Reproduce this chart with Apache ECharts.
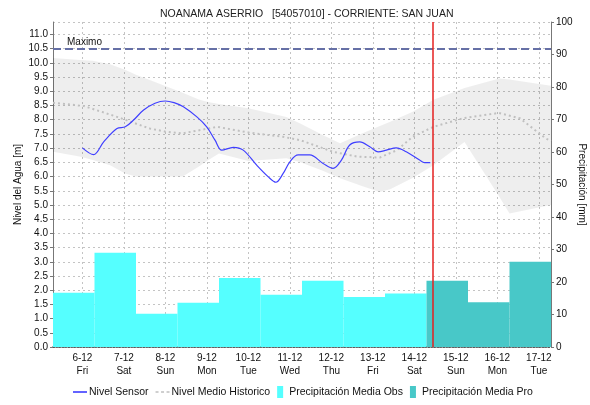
<!DOCTYPE html>
<html>
<head>
<meta charset="utf-8">
<script src="https://cdn.jsdelivr.net/npm/echarts@6/dist/echarts.min.js"></script>
<style>
html, body { margin: 0; padding: 0; background: #fff; }
#chart { width: 590px; height: 405px; }
</style>
</head>
<body>
<div id="chart"></div>
<script>
// time origin: 6-12 00:00, offsets below are in hours
var base = new Date(2019, 11, 6, 0, 0).getTime();
var HOUR = 3600 * 1000;
var dayNames = ['Sun', 'Mon', 'Tue', 'Wed', 'Thu', 'Fri', 'Sat'];

// Nivel Sensor [m]
var sensorHours = [0, 6.5, 12.3, 20, 24.8, 29.6, 35.4, 42, 47.9, 53, 58.4, 66.2, 71.9, 76.7, 80.6, 87.3,
    93, 100.8, 107.5, 111.9, 116.1, 120, 124.8, 131.5, 139.2, 145, 149.8, 154.6, 160.4, 166.2, 171,
    175.8, 181.5, 187.3, 195, 197.9, 201.2];
var sensorLevel = [7.01, 6.77, 7.22, 7.69, 7.75, 7.99, 8.34, 8.58, 8.66, 8.6, 8.46, 8.10, 7.75, 7.28, 6.93, 7.03,
    6.93, 6.40, 5.99, 5.80, 6.11, 6.52, 6.76, 6.76, 6.46, 6.29, 6.58, 7.11, 7.22, 7.05, 6.87,
    6.93, 7.01, 6.87, 6.58, 6.49, 6.49];

// Nivel Medio Historico [m]
var histHours = [-17, 1, 20, 39, 48, 58, 78, 97, 116, 126, 145, 159, 172, 182, 191, 203, 220, 241, 253, 268, 271];
var histLevel = [8.60, 8.48, 8.10, 7.69, 7.58, 7.52, 7.75, 7.54, 7.40, 7.28, 6.87, 6.70, 6.67, 6.93, 7.40, 7.75,
    8.05, 8.24, 8.05, 7.34, 7.25];

// historic min / max band [m]
var bandHours = [-17, -1, 6, 16, 25, 31, 39, 58, 67, 72, 79, 96, 118, 126, 139, 149, 162, 172, 178, 191,
    203, 221, 241, 247, 271];
var bandLow = [6.87, 6.70, 6.58, 6.40, 6.10, 6.00, 6.00, 6.00, 6.34, 6.55, 6.81, 6.55, 6.64, 6.50, 6.20,
    5.94, 5.66, 5.46, 5.55, 5.95, 6.40, 7.22, 5.30, 4.70, 5.00];
var bandHigh = [10.17, 10.10, 10.08, 9.95, 9.75, 9.58, 9.40, 8.95, 8.72, 8.63, 8.55, 8.40, 8.10, 7.87, 7.46,
    7.17, 7.52, 7.78, 7.93, 8.28, 8.70, 9.12, 9.45, 9.42, 9.20];

// daily precipitation [mm], each day runs 07:00 -> 07:00, first one starts 5-12 07:00
var rainStartHour = -17;
var obsRain = [16.7, 29.0, 10.2, 13.6, 21.2, 16.1, 20.4, 15.4, 16.5];
var proRain = [20.4, 13.8, 26.2];

var maxLevel = 10.5;
var nowHour = 202.7;

function t(h) { return base + h * HOUR; }

function pairs(hours, vals) {
    return hours.map(function (h, i) { return [t(h), vals[i]]; });
}

function rainBars(vals, firstDay) {
    return vals.map(function (v, i) {
        var s = rainStartHour + (firstDay + i) * 24;
        return [t(s), t(s + 24), v];
    });
}

function renderBar(params, api) {
    var p0 = api.coord([api.value(0), api.value(2)]);
    var p1 = api.coord([api.value(1), 0]);
    return {
        type: 'rect',
        shape: { x: p0[0], y: p0[1], width: p1[0] - p0[0], height: p1[1] - p0[1] },
        style: api.style()
    };
}

var font = 'Liberation Sans, Arial, sans-serif';
var obsColor = '#55ffff';
var proColor = '#48c8c8';

var option = {
    animation: false,
    textStyle: { fontFamily: font },
    title: {
        text: 'NOANAMA ASERRIO   [54057010] - CORRIENTE: SAN JUAN',
        left: 155,
        top: 4,
        textStyle: { fontSize: 10.5, fontWeight: 'normal', color: '#222', fontFamily: font }
    },
    legend: {
        left: 68,
        top: 381,
        itemWidth: 14,
        itemHeight: 12,
        itemGap: 7,
        textStyle: { fontSize: 10.5, color: '#111', fontFamily: font, padding: [0, 0, 0, -3] },
        data: [
            { name: 'Nivel Sensor', icon: 'path://M0,0h14v1.4h-14z', itemStyle: { color: '#2020ff' } },
            { name: 'Nivel Medio Historico', icon: 'path://M0,0h3v1.4h-3zM5.5,0h3v1.4h-3zM11,0h3v1.4h-3z', itemStyle: { color: '#c0c0c0' } },
            { name: 'Precipitación Media Obs', icon: 'path://M0,0h6v12h-6z' },
            { name: 'Precipitación Media Pro', icon: 'path://M0,0h6v12h-6z' }
        ]
    },
    grid: { left: 53, right: 39, top: 22, bottom: 58, containLabel: false, outerBoundsMode: 'none' },
    xAxis: {
        type: 'time',
        min: t(-17),
        max: t(271),
        minInterval: 24 * HOUR,
        maxInterval: 24 * HOUR,
        axisLine: { show: true, lineStyle: { color: '#333', type: 'dotted', width: 1.5 } },
        axisTick: { show: false },
        splitLine: { show: true, lineStyle: { color: '#c4c4c4', type: [2, 3] } },
        axisLabel: {
            interval: 0,
            margin: 5,
            fontSize: 10,
            lineHeight: 13,
            color: '#111',
            showMinLabel: false,
            showMaxLabel: false,
            formatter: function (val) {
                var d = new Date(val);
                if (d.getHours() !== 0 || d.getMinutes() !== 0) return '';
                return d.getDate() + '-12\n' + dayNames[d.getDay()];
            }
        }
    },
    yAxis: [{
        type: 'value',
        min: 0,
        max: 11.44,
        interval: 0.5,
        name: 'Nivel del Agua [m]',
        nameLocation: 'middle',
        nameGap: 30,
        nameMoveOverlap: false,
        nameTextStyle: { fontSize: 10, color: '#111', fontFamily: font },
        axisLine: { show: true, lineStyle: { color: '#777' } },
        axisTick: { show: true, length: 3, lineStyle: { color: '#777' } },
        axisLabel: {
            fontSize: 10, color: '#111', margin: 5, showMaxLabel: false,
            formatter: function (v) { return v.toFixed(1); }
        },
        splitLine: { show: true, lineStyle: { color: '#c4c4c4', type: [2, 3] } }
    }, {
        type: 'value',
        min: 0,
        max: 100,
        interval: 10,
        position: 'right',
        name: 'Precipitación [mm]',
        nameLocation: 'middle',
        nameGap: 26,
        nameRotate: -90,
        nameMoveOverlap: false,
        nameTextStyle: { fontSize: 10, color: '#111', fontFamily: font },
        axisLine: { show: true, lineStyle: { color: '#777' } },
        axisTick: { show: true, length: 3, lineStyle: { color: '#777' } },
        axisLabel: { fontSize: 10, color: '#111', margin: 5 },
        splitLine: { show: false }
    }],
    series: [{
        name: 'bandLow',
        type: 'line',
        stack: 'band',
        data: pairs(bandHours, bandLow),
        symbol: 'none',
        lineStyle: { opacity: 0 },
        silent: true,
        z: 1
    }, {
        name: 'bandRange',
        type: 'line',
        stack: 'band',
        data: bandHours.map(function (h, i) { return [t(h), bandHigh[i] - bandLow[i]]; }),
        symbol: 'none',
        lineStyle: { opacity: 0 },
        areaStyle: { color: 'rgba(0,0,0,0.065)', opacity: 1 },
        silent: true,
        z: 1
    }, {
        name: 'Precipitación Media Obs',
        type: 'custom',
        yAxisIndex: 1,
        renderItem: renderBar,
        encode: { x: [0, 1], y: 2 },
        itemStyle: { color: obsColor },
        data: rainBars(obsRain, 0),
        z: 3
    }, {
        name: 'Precipitación Media Pro',
        type: 'custom',
        yAxisIndex: 1,
        renderItem: renderBar,
        encode: { x: [0, 1], y: 2 },
        itemStyle: { color: proColor },
        data: rainBars(proRain, obsRain.length),
        z: 3
    }, {
        name: 'Nivel Medio Historico',
        type: 'line',
        data: pairs(histHours, histLevel),
        symbol: 'none',
        lineStyle: { color: '#c0c0c0', width: 2, type: [2, 3] },
        itemStyle: { color: '#c0c0c0' },
        z: 4
    }, {
        name: 'Nivel Sensor',
        type: 'line',
        data: pairs(sensorHours, sensorLevel),
        symbol: 'none',
        smooth: 0.35,
        lineStyle: { color: '#3f3fff', width: 1.2 },
        itemStyle: { color: '#2020ff' },
        z: 5,
        markLine: {
            silent: true,
            symbol: 'none',
            data: [{
                yAxis: maxLevel,
                lineStyle: { color: '#6670a6', width: 2, type: [8, 4] },
                label: { show: true, position: 'insideStartTop', formatter: 'Maximo', fontSize: 10, color: '#111', distance: [14, 1] }
            }, {
                xAxis: t(nowHour),
                lineStyle: { color: '#e52020', width: 1.5, type: 'solid' },
                label: { show: false }
            }]
        }
    }]
};

var myChart = echarts.init(document.getElementById('chart'));
myChart.setOption(option);
</script>
</body>
</html>
